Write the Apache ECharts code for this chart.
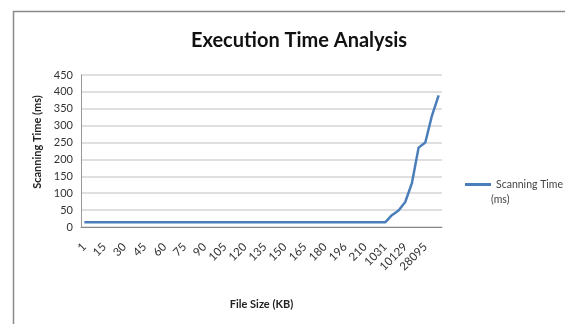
<!DOCTYPE html>
<html>
<head>
<meta charset="utf-8">
<script src="https://cdn.jsdelivr.net/npm/echarts@6/dist/echarts.min.js"></script>
<style>
  html, body { margin: 0; padding: 0; background: #fff; }
  #chart { width: 565px; height: 324px; }
</style>
</head>
<body>
<div id="chart"></div>
<script>
// file sizes (KB), one per category
var fileSizes = [
  "1", "5", "10", "15", "20", "25", "30", "35", "40", "45",
  "50", "55", "60", "65", "70", "75", "80", "85", "90", "95",
  "100", "105", "110", "115", "120", "125", "130", "135", "140", "145",
  "150", "155", "160", "165", "170", "175", "180", "185", "190", "196",
  "200", "205", "210", "215", "220", "1031", "2048", "5120", "10129", "15360",
  "20480", "28095", "35840", "40960"
];
// scanning time (ms)
var scanTimes = [
  14, 14, 14, 14, 14, 14, 14, 14, 14, 14,
  14, 14, 14, 14, 14, 14, 14, 14, 14, 14,
  14, 14, 14, 14, 14, 14, 14, 14, 14, 14,
  14, 14, 14, 14, 14, 14, 14, 14, 14, 14,
  14, 14, 14, 14, 14, 14, 35, 49, 74, 130,
  235, 250, 330, 390
];
var yTicks = { min: 0, max: 450, step: 50 };

var font = "Lato";
var chart = echarts.init(document.getElementById("chart"));

var option = {
  backgroundColor: "#fff",
  animation: false,
  title: {
    text: "Execution Time Analysis",
    left: 294,
    top: 26,
    textAlign: "center",
    textStyle: { fontFamily: font, fontSize: 20, fontWeight: "bold", color: "#111" }
  },
  grid: { left: 81, right: 123, top: 75, bottom: 97 },
  legend: {
    show: true,
    left: 460,
    top: 174,
    itemWidth: 26,
    itemHeight: 3,
    icon: "rect",
    data: ["Scanning Time (ms)"],
    formatter: function() {
      return "Scanning Time";
    },
    textStyle: { fontFamily: font, fontSize: 10.5, color: "#444" }
  },
  xAxis: {
    type: "category",
    data: fileSizes,
    boundaryGap: true,
    axisLine: { lineStyle: { color: "#888", width: 1 } },
    axisTick: { show: false },
    axisLabel: {
      interval: 2,
      rotate: 45,
      margin: 18,
      fontFamily: font,
      fontSize: 11.5,
      color: "#333"
    },
    name: "File Size (KB)",
    nameLocation: "middle",
    nameGap: 72,
    nameTextStyle: { fontFamily: font, fontSize: 11, fontWeight: "bold", color: "#222" }
  },
  yAxis: {
    type: "value",
    min: yTicks.min,
    max: yTicks.max,
    interval: yTicks.step,
    axisLine: { show: true, lineStyle: { color: "#999", width: 1 } },
    axisTick: { show: false },
    splitLine: { lineStyle: { color: "#d4d4d4", width: 1.5 } },
    axisLabel: { fontFamily: font, fontSize: 11, color: "#333", margin: 8 }
  },
  graphic: [
    {
      type: "line",
      shape: { x1: 13.5, y1: 11, x2: 13.5, y2: 324 },
      style: { stroke: "#8a8a8a", lineWidth: 1.5 }
    },
    {
      type: "line",
      shape: { x1: 13, y1: 11.5, x2: 565, y2: 11.5 },
      style: { stroke: "#8a8a8a", lineWidth: 1.5 }
    },
    {
      type: "text",
      x: 37,
      y: 142,
      rotation: Math.PI / 2,
      style: {
        text: "Scanning Time (ms)",
        fontFamily: font,
        fontSize: 11,
        fontWeight: "bold",
        fill: "#222",
        align: "center",
        verticalAlign: "middle"
      }
    },
    {
      type: "text",
      x: 491,
      y: 200,
      style: {
        text: "(ms)",
        fontFamily: font,
        fontSize: 10.5,
        fill: "#444",
        align: "left",
        verticalAlign: "middle"
      }
    }
  ],
  series: [
    {
      name: "Scanning Time (ms)",
      type: "line",
      data: scanTimes,
      showSymbol: false,
      lineStyle: { color: "#4a7ebb", width: 2.5 },
      itemStyle: { color: "#4a7ebb" }
    }
  ]
};

chart.setOption(option);
</script>
</body>
</html>
